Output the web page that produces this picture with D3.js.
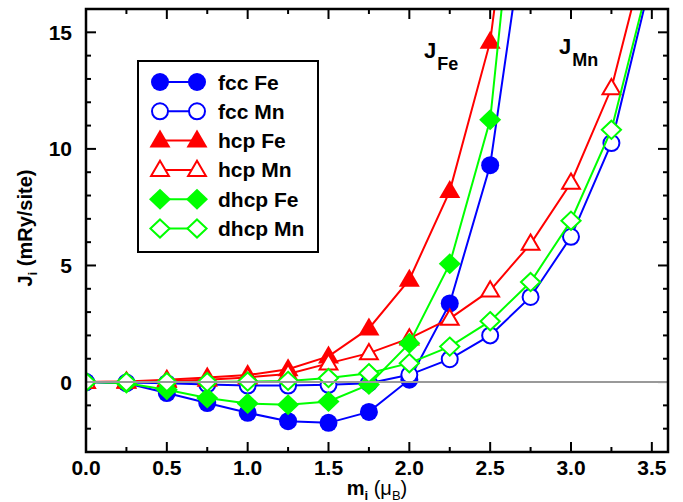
<!DOCTYPE html>
<html>
<head>
<meta charset="utf-8">
<script src="https://cdn.jsdelivr.net/npm/d3@7"></script>
<style>
	body { margin: 0; background: #fff; }
	svg { display: block; font-family: Arial, "Liberation Sans", sans-serif; font-weight: bold; }
</style>
</head>
<body>
<div id="container"></div>
<script>
// ==============
//	DATA
// ==============

var mValues = [0, 0.25, 0.5, 0.75, 1.0, 1.25, 1.5, 1.75, 2.0, 2.25, 2.5, 2.75, 3.0, 3.25, 3.5];

var fccFe  = [0, -0.05, -0.47, -0.9, -1.32, -1.68, -1.75, -1.28, 0.1, 3.37, 9.3, 21.3, null, null, null];
var fccMn  = [0, -0.02, -0.05, -0.1, -0.15, -0.15, -0.12, -0.05, 0.31, 0.98, 2.0, 3.65, 6.23, 10.25, 17.4];
var hcpFe  = [0, 0.02, 0.1, 0.2, 0.3, 0.55, 1.1, 2.3, 4.39, 8.19, 14.6, 28, null, null, null];
var hcpMn  = [0, 0.01, 0.05, 0.1, 0.2, 0.35, 0.8, 1.24, 1.87, 2.72, 3.93, 5.93, 8.55, 12.6, 19.4];
var dhcpFe = [0, -0.05, -0.33, -0.68, -0.92, -0.97, -0.83, -0.11, 1.66, 5.07, 11.25, 28, null, null, null];
var dhcpMn = [0, 0, 0, 0, 0.02, 0.05, 0.17, 0.38, 0.81, 1.52, 2.61, 4.29, 6.92, 10.82, 17.7];

var seriesNames = ["fcc Fe", "fcc Mn", "hcp Fe", "hcp Mn", "dhcp Fe", "dhcp Mn"];
var seriesValues = [fccFe, fccMn, hcpFe, hcpMn, dhcpFe, dhcpMn];
var seriesColors = ["#0000ff", "#0000ff", "#ff0000", "#ff0000", "#00ff00", "#00ff00"];
var seriesShapes = ["circle", "circle", "triangle", "triangle", "diamond", "diamond"];
var seriesFilled = [true, false, true, false, true, false];

var xTicks = [0, 0.5, 1.0, 1.5, 2.0, 2.5, 3.0, 3.5];
var yTicks = [0, 5, 10, 15];

// ==============
//	OPTIONS
// ==============

var W = 683, H = 502,
	plot = {left: 86, right: 668, top: 9, bottom: 452},
	fontSize = 21;

var x = d3.scaleLinear().domain([0, 3.6]).range([plot.left, plot.right]);
var y = d3.scaleLinear().domain([-3, 16]).range([plot.bottom, plot.top]);

var svg = d3.select("#container").append("svg")
	.attr("width", W)
	.attr("height", H);

svg.append("clipPath").attr("id", "clip")
	.append("rect")
		.attr("x", plot.left).attr("y", plot.top)
		.attr("width", plot.right - plot.left)
		.attr("height", plot.bottom - plot.top);

// marker path generator (centered on 0,0)
function markerPath(shape, filled) {
	var s = filled ? 0 : 1; // shrink open markers by half stroke
	if (shape === "circle") {
		var r = 9 - s;
		return "M" + (-r) + ",0A" + r + "," + r + " 0 1,0 " + r + ",0A" + r + "," + r + " 0 1,0 " + (-r) + ",0Z";
	}
	if (shape === "triangle") {
		var hw = 10.5 - s * 1.6, top = -11 + s * 1.8, bot = 7 - s;
		return "M0," + top + "L" + hw + "," + bot + "L" + (-hw) + "," + bot + "Z";
	}
	var a = 11 - s * 1.4, b = 10.5 - s * 1.4;
	return "M0," + (-b) + "L" + a + ",0L0," + b + "L" + (-a) + ",0Z";
}

// ==============
//	AXES & TICKS
// ==============

var frame = svg.append("g");

var xMinor = d3.range(0.25, 3.6, 0.5);
var yMinor = d3.range(-3, 16.01, 1).filter(v => yTicks.indexOf(v) < 0);

// x ticks, bottom and top, pointing inward
[[xTicks, 10], [xMinor, 5]].forEach(function(t) {
	frame.selectAll(null).data(t[0]).join("line")
		.attr("x1", d => x(d)).attr("x2", d => x(d))
		.attr("y1", plot.bottom).attr("y2", plot.bottom - t[1])
		.attr("stroke", "#000").attr("stroke-width", 2);
	frame.selectAll(null).data(t[0]).join("line")
		.attr("x1", d => x(d)).attr("x2", d => x(d))
		.attr("y1", plot.top).attr("y2", plot.top + t[1])
		.attr("stroke", "#000").attr("stroke-width", 2);
});
// y ticks, left and right
[[yTicks, 10], [yMinor, 5]].forEach(function(t) {
	frame.selectAll(null).data(t[0]).join("line")
		.attr("y1", d => y(d)).attr("y2", d => y(d))
		.attr("x1", plot.left).attr("x2", plot.left + t[1])
		.attr("stroke", "#000").attr("stroke-width", 2);
	frame.selectAll(null).data(t[0]).join("line")
		.attr("y1", d => y(d)).attr("y2", d => y(d))
		.attr("x1", plot.right).attr("x2", plot.right - t[1])
		.attr("stroke", "#000").attr("stroke-width", 2);
});

frame.selectAll(null).data(xTicks).join("text")
	.attr("x", d => x(d))
	.attr("y", plot.bottom + 23)
	.attr("text-anchor", "middle")
	.style("font-size", fontSize + "px")
	.text(d => d.toFixed(1));

frame.selectAll(null).data(yTicks).join("text")
	.attr("x", plot.left - 14)
	.attr("y", d => y(d))
	.attr("dy", "0.36em")
	.attr("text-anchor", "end")
	.style("font-size", fontSize + "px")
	.text(d => d);

// axis titles
var yTitle = svg.append("text")
	.attr("transform", "translate(32,228) rotate(-90)")
	.attr("text-anchor", "middle")
	.style("font-size", "20px");
yTitle.append("tspan").text("J");
yTitle.append("tspan").attr("dy", 5).style("font-size", "13px").text("i");
yTitle.append("tspan").attr("dy", -5).text(" (mRy/site)");

var xTitle = svg.append("text")
	.attr("x", (plot.left + plot.right) / 2)
	.attr("y", 495)
	.attr("text-anchor", "middle")
	.style("font-size", "20px");
xTitle.append("tspan").text("m");
xTitle.append("tspan").attr("dy", 5).style("font-size", "13px").text("i");
xTitle.append("tspan").attr("dy", -5).style("font-weight", "normal").text(" (\u03bc");
xTitle.append("tspan").attr("dy", 5).style("font-size", "13px").style("font-weight", "normal").text("B");
xTitle.append("tspan").attr("dy", -5).style("font-weight", "normal").text(")");

// ==============
//	SERIES
// ==============

var line = d3.line()
	.defined(d => d[1] !== null)
	.x(d => x(d[0]))
	.y(d => y(d[1]));

var plotArea = svg.append("g").attr("clip-path", "url(#clip)");

seriesValues.forEach(function(vals, i) {
	var pts = mValues.map((m, j) => [m, vals[j]]).filter(d => d[1] !== null);
	var g = plotArea.append("g");
	g.append("path")
		.datum(pts)
		.attr("d", line)
		.attr("fill", "none")
		.attr("stroke", seriesColors[i])
		.attr("stroke-width", 2);
	g.selectAll("path.mk").data(pts).join("path")
		.attr("class", "mk")
		.attr("transform", d => "translate(" + x(d[0]) + "," + y(d[1]) + ")")
		.attr("d", markerPath(seriesShapes[i], seriesFilled[i]))
		.attr("fill", seriesFilled[i] ? seriesColors[i] : "#fff")
		.attr("stroke", seriesFilled[i] ? "none" : seriesColors[i])
		.attr("stroke-width", 2);
});

// zero line
plotArea.append("line")
	.attr("x1", plot.left).attr("x2", plot.right)
	.attr("y1", y(0)).attr("y2", y(0))
	.attr("stroke", "#999").attr("stroke-width", 2);

// frame on top
svg.append("rect")
	.attr("x", plot.left).attr("y", plot.top)
	.attr("width", plot.right - plot.left)
	.attr("height", plot.bottom - plot.top)
	.attr("fill", "none")
	.attr("stroke", "#000")
	.attr("stroke-width", 2.5);

// J labels
function subLabel(xp, yp, main, sub) {
	var t = svg.append("text").attr("x", xp).attr("y", yp).style("font-size", "22px");
	t.append("tspan").text(main);
	t.append("tspan").attr("dy", 12).attr("dx", 1).style("font-size", "18px").text(sub);
}
subLabel(424, 58, "J", "Fe");
subLabel(559, 54, "J", "Mn");

// ==============
//	LEGEND
// ==============

var legend = svg.append("g");
legend.append("rect")
	.attr("x", 138).attr("y", 61)
	.attr("width", 180).attr("height", 191)
	.attr("fill", "#fff")
	.attr("stroke", "#000")
	.attr("stroke-width", 2);

var rows = legend.selectAll("g.row").data(seriesNames).join("g")
	.attr("class", "row")
	.attr("transform", (d, i) => "translate(0," + (82 + i * 29.3) + ")");

rows.append("line")
	.attr("x1", 160).attr("x2", 197)
	.attr("stroke", (d, i) => seriesColors[i])
	.attr("stroke-width", 2);

[160, 197].forEach(function(mx) {
	rows.append("path")
		.attr("transform", "translate(" + mx + ",0)")
		.attr("d", (d, i) => markerPath(seriesShapes[i], seriesFilled[i]))
		.attr("fill", (d, i) => seriesFilled[i] ? seriesColors[i] : "#fff")
		.attr("stroke", (d, i) => seriesFilled[i] ? "none" : seriesColors[i])
		.attr("stroke-width", 2);
});

rows.append("text")
	.attr("x", 218)
	.attr("dy", "0.36em")
	.style("font-size", "21px")
	.text(d => d);
</script>
</body>
</html>
